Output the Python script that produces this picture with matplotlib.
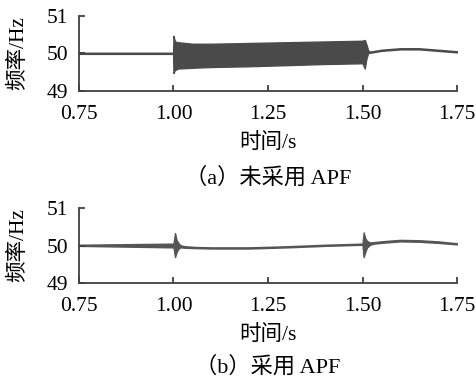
import matplotlib
matplotlib.use("Agg")
import matplotlib.pyplot as plt

plt.rcParams['font.family'] = ['Liberation Serif', 'Noto Sans CJK SC']

# (a) without APF: envelope of the frequency trace
t_a = [0.75, 0.999, 1.000, 1.003, 1.006, 1.012, 1.05, 1.10, 1.20, 1.30, 1.40, 1.50,
       1.506, 1.510, 1.515, 1.52, 1.55, 1.60, 1.65, 1.70, 1.75]
up_a = [50.02, 50.02, 50.47, 50.35, 50.31, 50.30, 50.26, 50.26, 50.28, 50.30, 50.32, 50.34,
        50.36, 50.25, 50.08, 50.05, 50.10, 50.14, 50.14, 50.10, 50.06]
lo_a = [49.99, 49.99, 49.48, 49.55, 49.57, 49.60, 49.62, 49.64, 49.66, 49.69, 49.72, 49.74,
        49.60, 49.85, 50.02, 50.02, 50.07, 50.11, 50.11, 50.07, 50.03]

# (b) with APF
t_b = [0.75, 1.000, 1.004, 1.008, 1.012, 1.016, 1.02, 1.03, 1.06, 1.10, 1.20, 1.30, 1.40, 1.50,
       1.503, 1.507, 1.512, 1.52, 1.53, 1.56, 1.60, 1.65, 1.70, 1.75]
up_b = [50.02, 50.05, 50.33, 50.15, 50.08, 50.03, 50.00, 49.98, 49.96, 49.95, 49.95, 49.98, 50.02, 50.05,
        50.35, 50.20, 50.12, 50.08, 50.09, 50.12, 50.15, 50.14, 50.11, 50.06]
lo_b = [49.99, 49.95, 49.69, 49.82, 49.90, 49.94, 49.95, 49.94, 49.93, 49.92, 49.92, 49.95, 49.99, 50.02,
        49.69, 49.82, 49.95, 50.02, 50.05, 50.08, 50.11, 50.10, 50.07, 50.03]

xticks = [0.75, 1.00, 1.25, 1.50, 1.75]
xticklabels = ['0.75', '1.00', '1.25', '1.50', '1.75']
yticks = [49, 50, 51]
captions = ['（a）未采用 APF', '（b）采用 APF']

fig = plt.figure(figsize=(4.77, 3.77), dpi=100)

panels = [(t_a, up_a, lo_a, '#4a4a4a', 0.7586, -1.16),
          (t_b, up_b, lo_b, '#555555', 0.2493, -1.12)]
for i, (t, up, lo, col, bot, cap_y) in enumerate(panels):
    ax = fig.add_axes([0.1656, bot, 0.7925, 0.199])
    ax.fill_between(t, lo, up, color=col, linewidth=1.0, edgecolor=col)
    ax.set_xlim(0.75, 1.75)
    ax.set_ylim(49, 51)
    ax.set_xticks(xticks)
    ax.set_xticklabels(xticklabels)
    ax.set_yticks(yticks)
    for s in ['top', 'right']:
        ax.spines[s].set_visible(False)
    for s in ['left', 'bottom']:
        ax.spines[s].set_color('#404040')
        ax.spines[s].set_linewidth(1.3)
    ax.tick_params(direction='in', length=4, width=1.3, color='#404040', labelsize=15.5)
    ax.tick_params(axis='x', pad=10)
    ax.tick_params(axis='y', pad=8)
    ax.set_ylabel('频率/Hz', fontsize=15.5)
    ax.yaxis.set_label_coords(-0.135, 0.5)
    ax.set_xlabel('时间/s', fontsize=15.5, va='center')
    ax.xaxis.set_label_coords(0.5, -0.69)
    ax.text(0.5, cap_y, captions[i], transform=ax.transAxes, ha='center', va='center',
            fontsize=16)

fig.savefig('out.png', dpi=100)
